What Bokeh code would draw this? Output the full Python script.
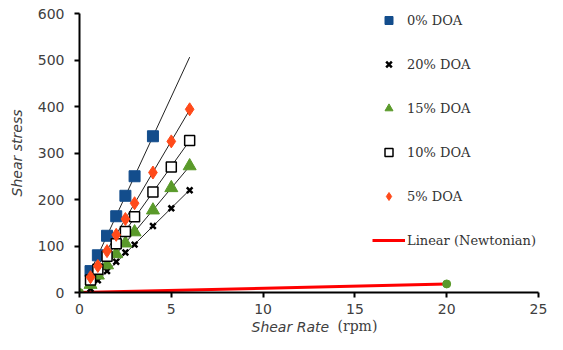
import numpy as np
from bokeh.plotting import figure
from bokeh.models import Range1d, Legend, LegendItem, Title
from bokeh.embed import file_html
from bokeh.resources import INLINE

# ---- data ----
x0 = [0.6, 1, 1.5, 2, 2.5, 3, 4]
y0 = [46, 80, 122, 164, 208, 250, 336]

x_common = [0.6, 1, 1.5, 2, 2.5, 3, 4, 5, 6]
y20 = [8, 26, 46, 66, 86, 103, 143, 181, 220]
y15 = [17, 37, 59, 83, 106, 130, 177, 225, 272]
y10 = [27, 50, 78, 105, 131, 163, 216, 270, 327]
y5 = [33, 57, 89, 124, 158, 192, 258, 325, 394]

x_newt = [0, 20]
y_newt = [0, 18.4]

trend_start = 0.6
trend_end = 6.0

labels = ["0% DOA", "20% DOA", "15% DOA", "10% DOA", "5% DOA", "Linear (Newtonian)"]
x_ticks = [0, 5, 10, 15, 20, 25]
y_ticks = [0, 100, 200, 300, 400, 500, 600]

BLUE = "#134D8C"
GREEN = "#5A9A2A"
ORANGE = "#FF4A1A"
TXT = "#404040"

p = figure(width=547, height=334, output_backend="svg", toolbar_location=None,
           x_range=Range1d(0, 25), y_range=Range1d(0, 600),
           min_border_left=79, min_border_right=9, min_border_top=13, min_border_bottom=42)
p.outline_line_color = None
p.grid.visible = False

for ax in (p.xaxis, p.yaxis):
    ax.axis_line_width = 2
    ax.axis_line_color = "black"
    ax.major_tick_line_width = 2
    ax.major_tick_line_color = "black"
    ax.major_tick_out = 5
    ax.major_tick_in = 0
    ax.minor_tick_line_color = None
    ax.major_label_text_font = "DejaVu Sans"
    ax.major_label_text_font_size = "14px"
    ax.major_label_text_color = TXT
p.xaxis.ticker = x_ticks
p.yaxis.ticker = y_ticks
p.xaxis.major_label_standoff = 6
p.yaxis.major_label_standoff = 10

p.yaxis.axis_label = "Shear stress"
p.yaxis.axis_label_text_font = "DejaVu Sans"
p.yaxis.axis_label_text_font_style = "italic"
p.yaxis.axis_label_text_font_size = "14px"
p.yaxis.axis_label_text_color = TXT
p.yaxis.axis_label_standoff = 10


def trend(xs, ys):
    k, b = np.polyfit(xs, ys, 1)
    xt = [trend_start, trend_end]
    return xt, [k * v + b for v in xt]


for xs, ys in [(x0, y0), (x_common, y20), (x_common, y15), (x_common, y10), (x_common, y5)]:
    xt, yt = trend(xs, ys)
    p.line(xt, yt, line_color="#222222", line_width=1)

k_n, b_n = np.polyfit(x_newt, y_newt, 1)
r_lin = p.line([x_newt[0], x_newt[-1]], [k_n * x_newt[0] + b_n, k_n * x_newt[-1] + b_n],
               line_color="#FF0000", line_width=3)
p.scatter(x_newt, y_newt, marker="circle", size=8, fill_color=GREEN, line_color=GREEN)

r0 = p.scatter(x0, y0, marker="square", size=11, fill_color=BLUE, line_color=BLUE)
r20 = p.scatter(x_common, y20, marker="x", size=8, line_color="black", line_width=2.5)
r15 = p.scatter(x_common, y15, marker="triangle", size=13, fill_color=GREEN, line_color=GREEN)
r10 = p.scatter(x_common, y10, marker="square", size=10, fill_color="white", line_color="black", line_width=1.5)
r5 = p.scatter(x_common, y5, marker="diamond", size=13, fill_color=ORANGE, line_color=ORANGE)

legend = Legend(items=[LegendItem(label=l, renderers=[r]) for l, r in
                       zip(labels, [r0, r20, r15, r10, r5, r_lin])],
                location=(293, 42), orientation="vertical",
                glyph_width=33, glyph_height=20, label_height=20, spacing=24,
                label_standoff=2, padding=0, margin=0,
                border_line_color=None, background_fill_alpha=0,
                label_text_font="DejaVu Serif", label_text_font_size="13px",
                label_text_color="#333333")
p.add_layout(legend, "center")

t1 = Title(text="Shear Rate", align="left", offset=172, standoff=0,
           text_font="DejaVu Sans", text_font_style="italic", text_font_size="14px",
           text_color=TXT)
t2 = Title(text="(rpm)", align="left", offset=258, standoff=-34, vertical_align="top",
           text_font="DejaVu Serif", text_font_style="normal", text_font_size="14px",
           text_color=TXT)
p.add_layout(t1, "below")
p.add_layout(t2, "below")

open("out.html", "w").write(file_html(p, INLINE))
